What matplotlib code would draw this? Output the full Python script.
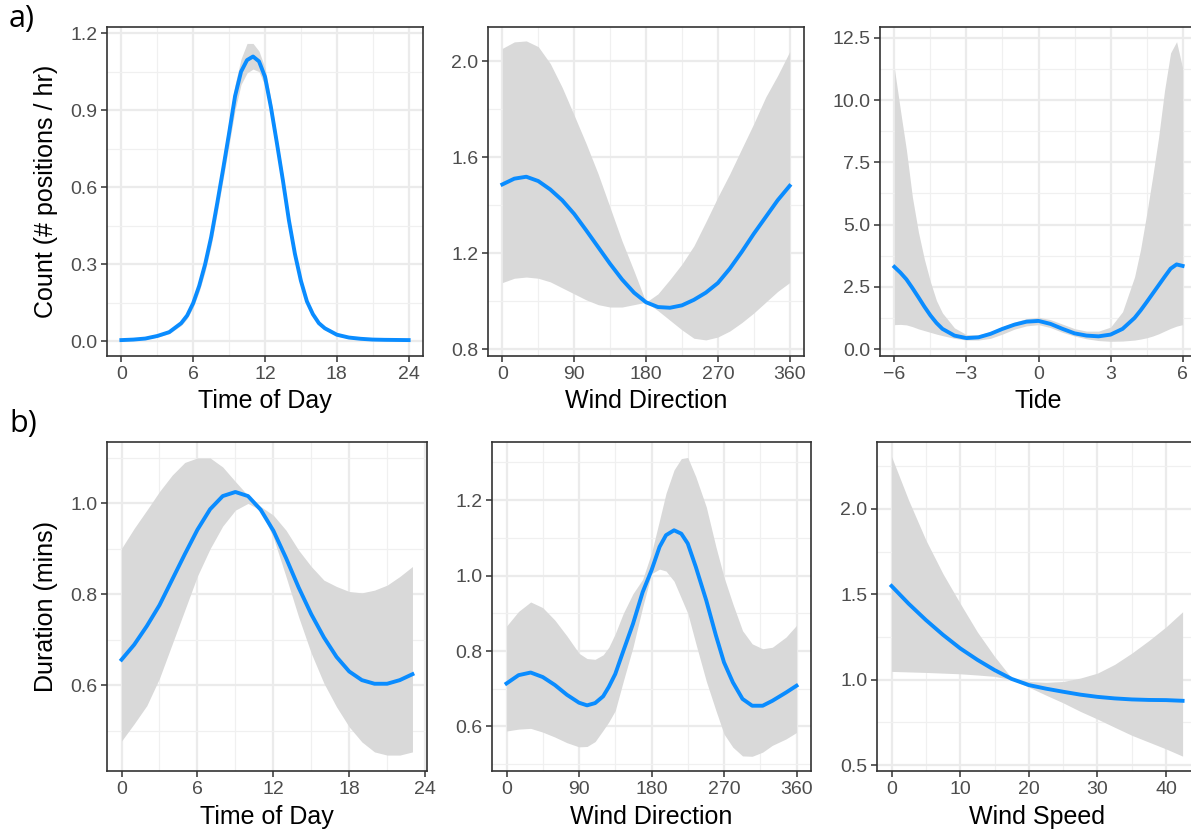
import matplotlib
matplotlib.use("Agg")
from matplotlib import pyplot as plt
from matplotlib.ticker import MultipleLocator, FormatStrFormatter

# ---- a) Count (# positions / hr) ----
tod_x = [0, 1, 2, 3, 4, 5, 5.5, 6, 6.5, 7, 7.5, 8, 8.5, 9, 9.5, 10, 10.5, 11, 11.5, 12,
         12.5, 13, 13.5, 14, 14.5, 15, 15.5, 16, 16.5, 17, 18, 19, 20, 21, 22, 24]
tod_count = [0.004, 0.006, 0.01, 0.02, 0.035, 0.07, 0.10, 0.148, 0.215, 0.30, 0.405,
             0.535, 0.67, 0.81, 0.955, 1.05, 1.095, 1.109, 1.09, 1.03, 0.91, 0.77, 0.625,
             0.47, 0.34, 0.235, 0.155, 0.105, 0.07, 0.05, 0.025, 0.014, 0.009, 0.006,
             0.005, 0.004]
tod_count_lo = [0.002, 0.004, 0.007, 0.015, 0.029, 0.061, 0.088, 0.132, 0.193, 0.272,
                0.372, 0.497, 0.63, 0.765, 0.9, 1.0, 1.045, 1.06, 1.05, 0.995, 0.88,
                0.745, 0.6, 0.45, 0.325, 0.22, 0.145, 0.097, 0.063, 0.044, 0.02, 0.01,
                0.006, 0.004, 0.003, 0.002]
tod_count_hi = [0.006, 0.009, 0.014, 0.025, 0.042, 0.08, 0.113, 0.165, 0.24, 0.33, 0.44,
                0.575, 0.715, 0.86, 1.0, 1.1, 1.16, 1.16, 1.13, 1.065, 0.94, 0.795, 0.65,
                0.49, 0.355, 0.25, 0.165, 0.113, 0.077, 0.056, 0.03, 0.018, 0.012, 0.009,
                0.008, 0.008]

wd_x = [0, 15, 30, 45, 60, 75, 90, 105, 120, 135, 150, 165, 180, 195, 210, 225, 240,
        255, 270, 285, 300, 315, 330, 345, 360]
wd_count = [1.486, 1.51, 1.518, 1.50, 1.465, 1.42, 1.363, 1.295, 1.225, 1.155, 1.09,
            1.035, 0.995, 0.975, 0.972, 0.982, 1.005, 1.035, 1.075, 1.135, 1.205, 1.28,
            1.35, 1.42, 1.48]
wd_count_lo = [1.077, 1.095, 1.10, 1.095, 1.08, 1.055, 1.03, 1.005, 0.985, 0.975, 0.975,
               0.985, 0.995, 0.96, 0.92, 0.88, 0.845, 0.838, 0.85, 0.875, 0.91, 0.95,
               0.995, 1.04, 1.077]
wd_count_hi = [2.053, 2.08, 2.084, 2.06, 1.99, 1.89, 1.774, 1.656, 1.53, 1.39, 1.25,
               1.125, 0.995, 1.03, 1.09, 1.154, 1.23, 1.33, 1.433, 1.53, 1.635, 1.739,
               1.85, 1.94, 2.039]

tide_x = [-6, -5.75, -5.5, -5.25, -5, -4.75, -4.5, -4.25, -4, -3.5, -3, -2.5, -2, -1.5,
          -1, -0.5, 0, 0.5, 1, 1.5, 2, 2.5, 3, 3.5, 4, 4.25, 4.5, 4.75, 5, 5.25, 5.5,
          5.75, 6]
tide_count = [3.30, 3.07, 2.80, 2.45, 2.08, 1.70, 1.35, 1.05, 0.81, 0.54, 0.44, 0.47,
              0.61, 0.81, 0.98, 1.10, 1.13, 1.01, 0.81, 0.63, 0.54, 0.51, 0.58, 0.81,
              1.25, 1.55, 1.88, 2.22, 2.56, 2.90, 3.23, 3.40, 3.34]
tide_count_lo = [0.98, 0.99, 0.97, 0.90, 0.81, 0.74, 0.67, 0.60, 0.54, 0.43, 0.36, 0.36,
                 0.43, 0.60, 0.80, 0.93, 0.98, 0.86, 0.67, 0.52, 0.41, 0.34, 0.31, 0.32,
                 0.36, 0.40, 0.45, 0.52, 0.61, 0.72, 0.83, 0.92, 0.98]
tide_count_hi = [11.27, 9.6, 8.0, 6.1, 4.7, 3.6, 2.7, 1.95, 1.45, 0.85, 0.58, 0.57, 0.70,
                 0.90, 1.08, 1.22, 1.28, 1.18, 1.00, 0.82, 0.72, 0.72, 0.88, 1.5, 2.9,
                 4.0, 5.4, 6.9, 8.5, 10.4, 11.9, 12.35, 11.3]

# ---- b) Duration (mins) ----
tod2_x = [0, 1, 2, 3, 4, 5, 6, 7, 8, 9, 10, 11, 12, 13, 14, 15, 16, 17, 18, 19, 20, 21,
          22, 23]
tod_dur = [0.656, 0.689, 0.73, 0.776, 0.832, 0.888, 0.942, 0.987, 1.016, 1.025, 1.016,
           0.986, 0.94, 0.88, 0.815, 0.756, 0.705, 0.662, 0.63, 0.611, 0.603, 0.603,
           0.611, 0.624]
tod_dur_lo = [0.477, 0.515, 0.555, 0.615, 0.69, 0.765, 0.84, 0.9, 0.95, 0.985, 1.0,
              0.985, 0.925, 0.839, 0.75, 0.67, 0.604, 0.552, 0.508, 0.475, 0.453, 0.446,
              0.446, 0.453]
tod_dur_hi = [0.901, 0.945, 0.985, 1.026, 1.062, 1.09, 1.10, 1.10, 1.08, 1.048, 1.017,
              0.993, 0.974, 0.941, 0.897, 0.861, 0.831, 0.817, 0.806, 0.803, 0.809, 0.82,
              0.839, 0.861]

wd2_x = [0, 15, 30, 45, 60, 75, 90, 100, 110, 120, 127, 135, 145, 157, 169, 180, 190,
         198, 208, 217, 225, 235, 248, 260, 270, 281, 293, 305, 318, 330, 347, 360]
wd_dur = [0.714, 0.736, 0.743, 0.731, 0.71, 0.684, 0.663, 0.656, 0.662, 0.68, 0.705,
          0.739, 0.80, 0.872, 0.956, 1.014, 1.076, 1.107, 1.12, 1.111, 1.085, 1.023,
          0.934, 0.841, 0.77, 0.717, 0.673, 0.655, 0.655, 0.668, 0.69, 0.708]
wd_dur_lo = [0.588, 0.593, 0.595, 0.585, 0.572, 0.557, 0.546, 0.547, 0.56, 0.59, 0.612,
             0.642, 0.72, 0.81, 0.916, 1.005, 1.017, 1.012, 0.985, 0.94, 0.9, 0.82, 0.72,
             0.642, 0.58, 0.545, 0.522, 0.521, 0.532, 0.55, 0.567, 0.584]
wd_dur_hi = [0.866, 0.905, 0.93, 0.915, 0.882, 0.84, 0.794, 0.78, 0.778, 0.79, 0.81,
             0.846, 0.9, 0.952, 0.99, 1.06, 1.147, 1.218, 1.28, 1.31, 1.313, 1.262, 1.182,
             1.076, 0.996, 0.925, 0.854, 0.819, 0.806, 0.81, 0.837, 0.868]

ws_x = [0, 2.5, 5, 7.5, 10, 12.5, 15, 17.5, 20, 22.5, 25, 27.5, 30, 32.5, 35, 37.5, 40,
        42.4]
ws_dur = [1.549, 1.445, 1.35, 1.263, 1.184, 1.117, 1.057, 1.005, 0.969, 0.948, 0.93,
          0.913, 0.90, 0.891, 0.885, 0.882, 0.881, 0.877]
ws_dur_lo = [1.049, 1.046, 1.043, 1.039, 1.035, 1.028, 1.02, 1.0, 0.957, 0.91, 0.865,
             0.815, 0.77, 0.722, 0.675, 0.635, 0.595, 0.553]
ws_dur_hi = [2.307, 2.05, 1.818, 1.62, 1.447, 1.28, 1.137, 1.01, 0.99, 0.985, 0.99,
             1.01, 1.039, 1.09, 1.156, 1.23, 1.31, 1.398]

W, H = 1191, 832
plt.rcParams['font.family'] = ['Liberation Sans', 'DejaVu Sans']
fig = plt.figure(figsize=(W / 100, H / 100), dpi=100)


def make_ax(left, right, top, bottom):
    return fig.add_axes([left / W, 1 - bottom / H, (right - left) / W, (bottom - top) / H])


def style(ax, xlim, ylim, xmaj, xmin, ymaj, ymin):
    ax.set_xlim(*xlim)
    ax.set_ylim(*ylim)
    ax.xaxis.set_major_locator(MultipleLocator(xmaj))
    ax.xaxis.set_minor_locator(MultipleLocator(xmin))
    ax.yaxis.set_major_locator(MultipleLocator(ymaj))
    ax.yaxis.set_minor_locator(MultipleLocator(ymin))
    ax.yaxis.set_major_formatter(FormatStrFormatter('%.1f'))
    ax.grid(True, which='major', color='#EBEBEB', lw=1.6)
    ax.grid(True, which='minor', color='#F0F0F0', lw=0.9)
    ax.set_axisbelow(True)
    ax.tick_params(which='major', length=4, width=1.1, color='#333333',
                   labelsize=14, labelcolor='#4D4D4D', pad=3)
    ax.tick_params(which='minor', length=0)
    for s in ax.spines.values():
        s.set_color('#333333')
        s.set_linewidth(1.2)


def smooth_panel(ax, x, y, lo, hi):
    ax.fill_between(x, lo, hi, color='#D9D9D9', lw=0, zorder=2)
    ax.plot(x, y, color='#0A8CFF', lw=2.8, zorder=3, solid_joinstyle='round')


# row a
ax = make_ax(107, 423, 27, 356)
smooth_panel(ax, tod_x, tod_count, tod_count_lo, tod_count_hi)
style(ax, (-1.2, 25.2), (-0.058, 1.224), 6, 3, 0.3, 0.15)

ax = make_ax(488, 804, 27, 356)
smooth_panel(ax, wd_x, wd_count, wd_count_lo, wd_count_hi)
style(ax, (-18, 378), (0.771, 2.142), 90, 45, 0.4, 0.2)

ax = make_ax(880, 1197, 27, 356)
smooth_panel(ax, tide_x, tide_count, tide_count_lo, tide_count_hi)
style(ax, (-6.6, 6.6), (-0.28, 12.94), 3, 1.5, 2.5, 1.25)

# row b
ax = make_ax(107, 427, 442, 771)
smooth_panel(ax, tod2_x, tod_dur, tod_dur_lo, tod_dur_hi)
style(ax, (-1.15, 24.15), (0.411, 1.135), 6, 3, 0.2, 0.1)

ax = make_ax(492, 811, 442, 771)
smooth_panel(ax, wd2_x, wd_dur, wd_dur_lo, wd_dur_hi)
style(ax, (-18, 378), (0.482, 1.354), 90, 45, 0.2, 0.1)

ax = make_ax(877, 1197, 442, 771)
smooth_panel(ax, ws_x, ws_dur, ws_dur_lo, ws_dur_hi)
style(ax, (-2.12, 44.5), (0.466, 2.392), 10, 5, 0.5, 0.25)

# axis titles
lab = dict(fontsize=18, color='black', ha='center', va='center')
for cx, cy, t in [(265, 401, 'Time of Day'), (646, 401, 'Wind Direction'),
                  (1038, 401, 'Tide'), (267, 817, 'Time of Day'),
                  (651, 817, 'Wind Direction'), (1037, 817, 'Wind Speed')]:
    fig.text(cx / W, 1 - cy / H, t, **lab)
fig.text(46 / W, 1 - 191 / H, 'Count (# positions / hr)', rotation=90, **lab)
fig.text(46 / W, 1 - 606 / H, 'Duration (mins)', rotation=90, **lab)

fig.text(9 / W, 1 - 19 / H, 'a)', fontsize=22, family='Open Sans', ha='left', va='center')
fig.text(9 / W, 1 - 424 / H, 'b)', fontsize=22, family='Open Sans', ha='left', va='center')

fig.savefig('out.png', dpi=100)
